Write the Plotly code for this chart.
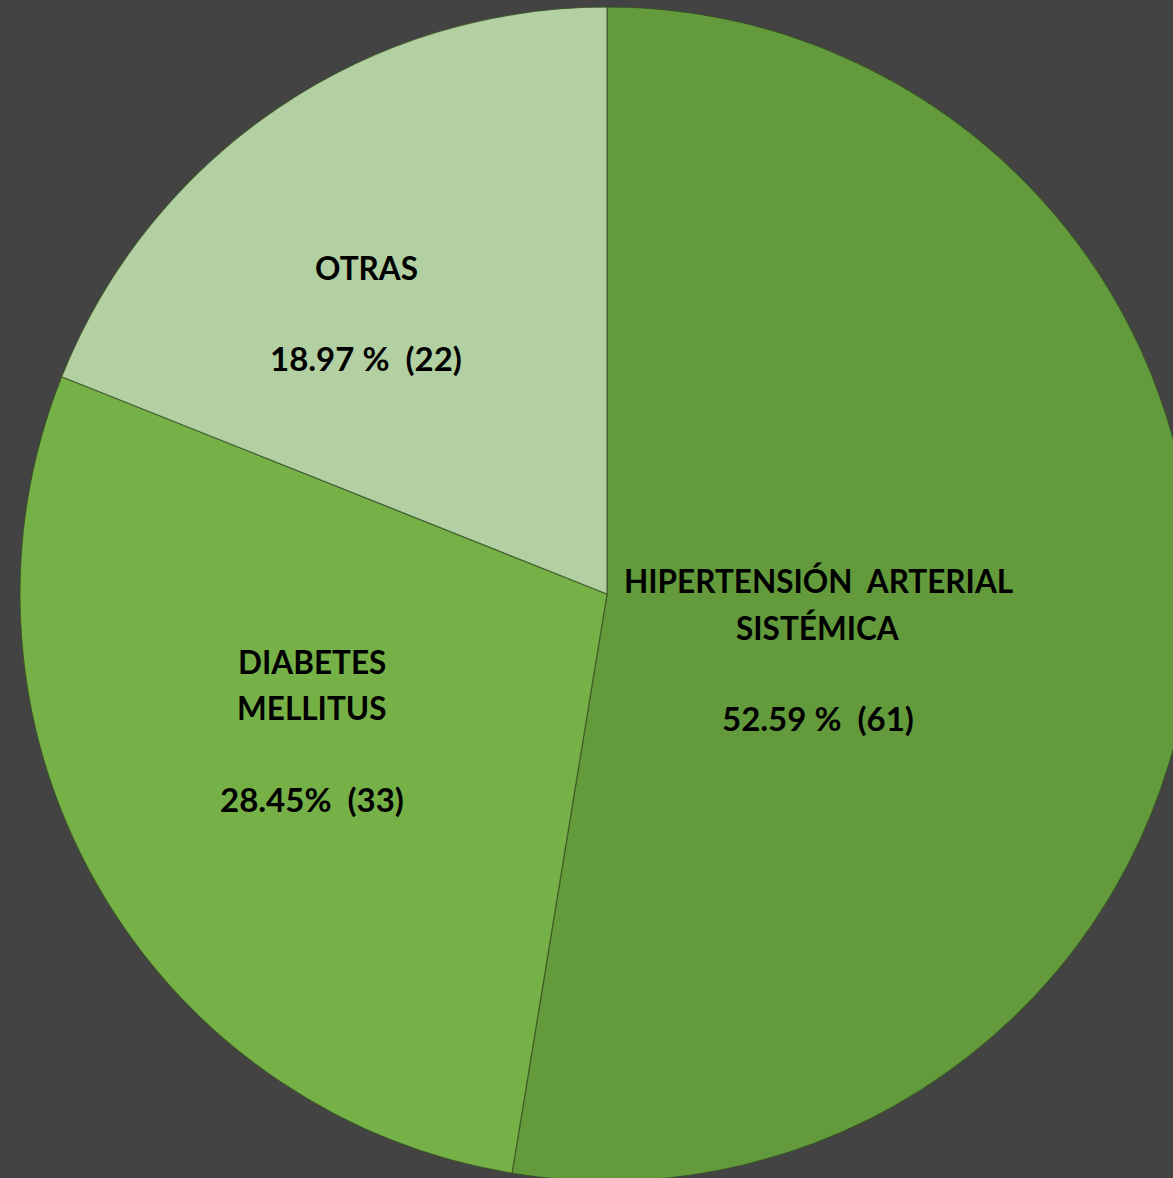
import plotly.graph_objects as go

categories = ["HIPERTENSIÓN  ARTERIAL SISTÉMICA", "DIABETES MELLITUS", "OTRAS"]
counts = [61, 33, 22]
percent_labels = ["52.59 %", "28.45%", "18.97 %"]
label_lines = [["HIPERTENSIÓN  ARTERIAL", "SISTÉMICA"], ["DIABETES", "MELLITUS"], ["OTRAS"]]
colors = ["#629a3c", "#76b148", "#b2d0a2"]

# figure is larger than the window so that the pie runs off the right/bottom edges
W, H = 1214, 1188
R = 587  # pie radius in px
CY = 594

fig = go.Figure(go.Pie(
    labels=categories,
    values=counts,
    sort=False,
    direction="clockwise",
    rotation=0,
    marker=dict(colors=colors, line=dict(color="rgba(55,80,35,0.75)", width=1.2)),
    textinfo="none",
    hoverinfo="label+value+percent",
    domain=dict(x=[0, 1], y=[(H - CY - R) / H, (H - CY + R) / H]),
    showlegend=False,
))

# label line positions (pixel centers) for each slice
line_pos = [
    [(818, 581), (818, 628), (818, 718)],
    [(312, 662), (312, 708), (312, 799)],
    [(366, 268), (366, 358)],
]

annotations = []
for i in range(len(categories)):
    lines = label_lines[i] + [f"{percent_labels[i]}  ({counts[i]})"]
    for j, (txt, (px, py)) in enumerate(zip(lines, line_pos[i])):
        is_pct = j == len(lines) - 1
        annotations.append(dict(
            x=px / W, y=1 - py / H, xref="paper", yref="paper",
            text=f"<b>{txt}</b>", showarrow=False,
            xanchor="center", yanchor="middle",
            font=dict(family="Lato", size=33 if is_pct else 31.5, color="#000000"),
        ))

fig.update_layout(
    width=W, height=H,
    margin=dict(l=0, r=0, t=0, b=0),
    paper_bgcolor="#434343",
    plot_bgcolor="#434343",
    annotations=annotations,
)

fig.write_html(
    "out.html",
    config={"displayModeBar": False},
    post_script="document.body.style.margin='0';document.body.style.overflow='hidden';document.body.style.background='#434343';",
)
